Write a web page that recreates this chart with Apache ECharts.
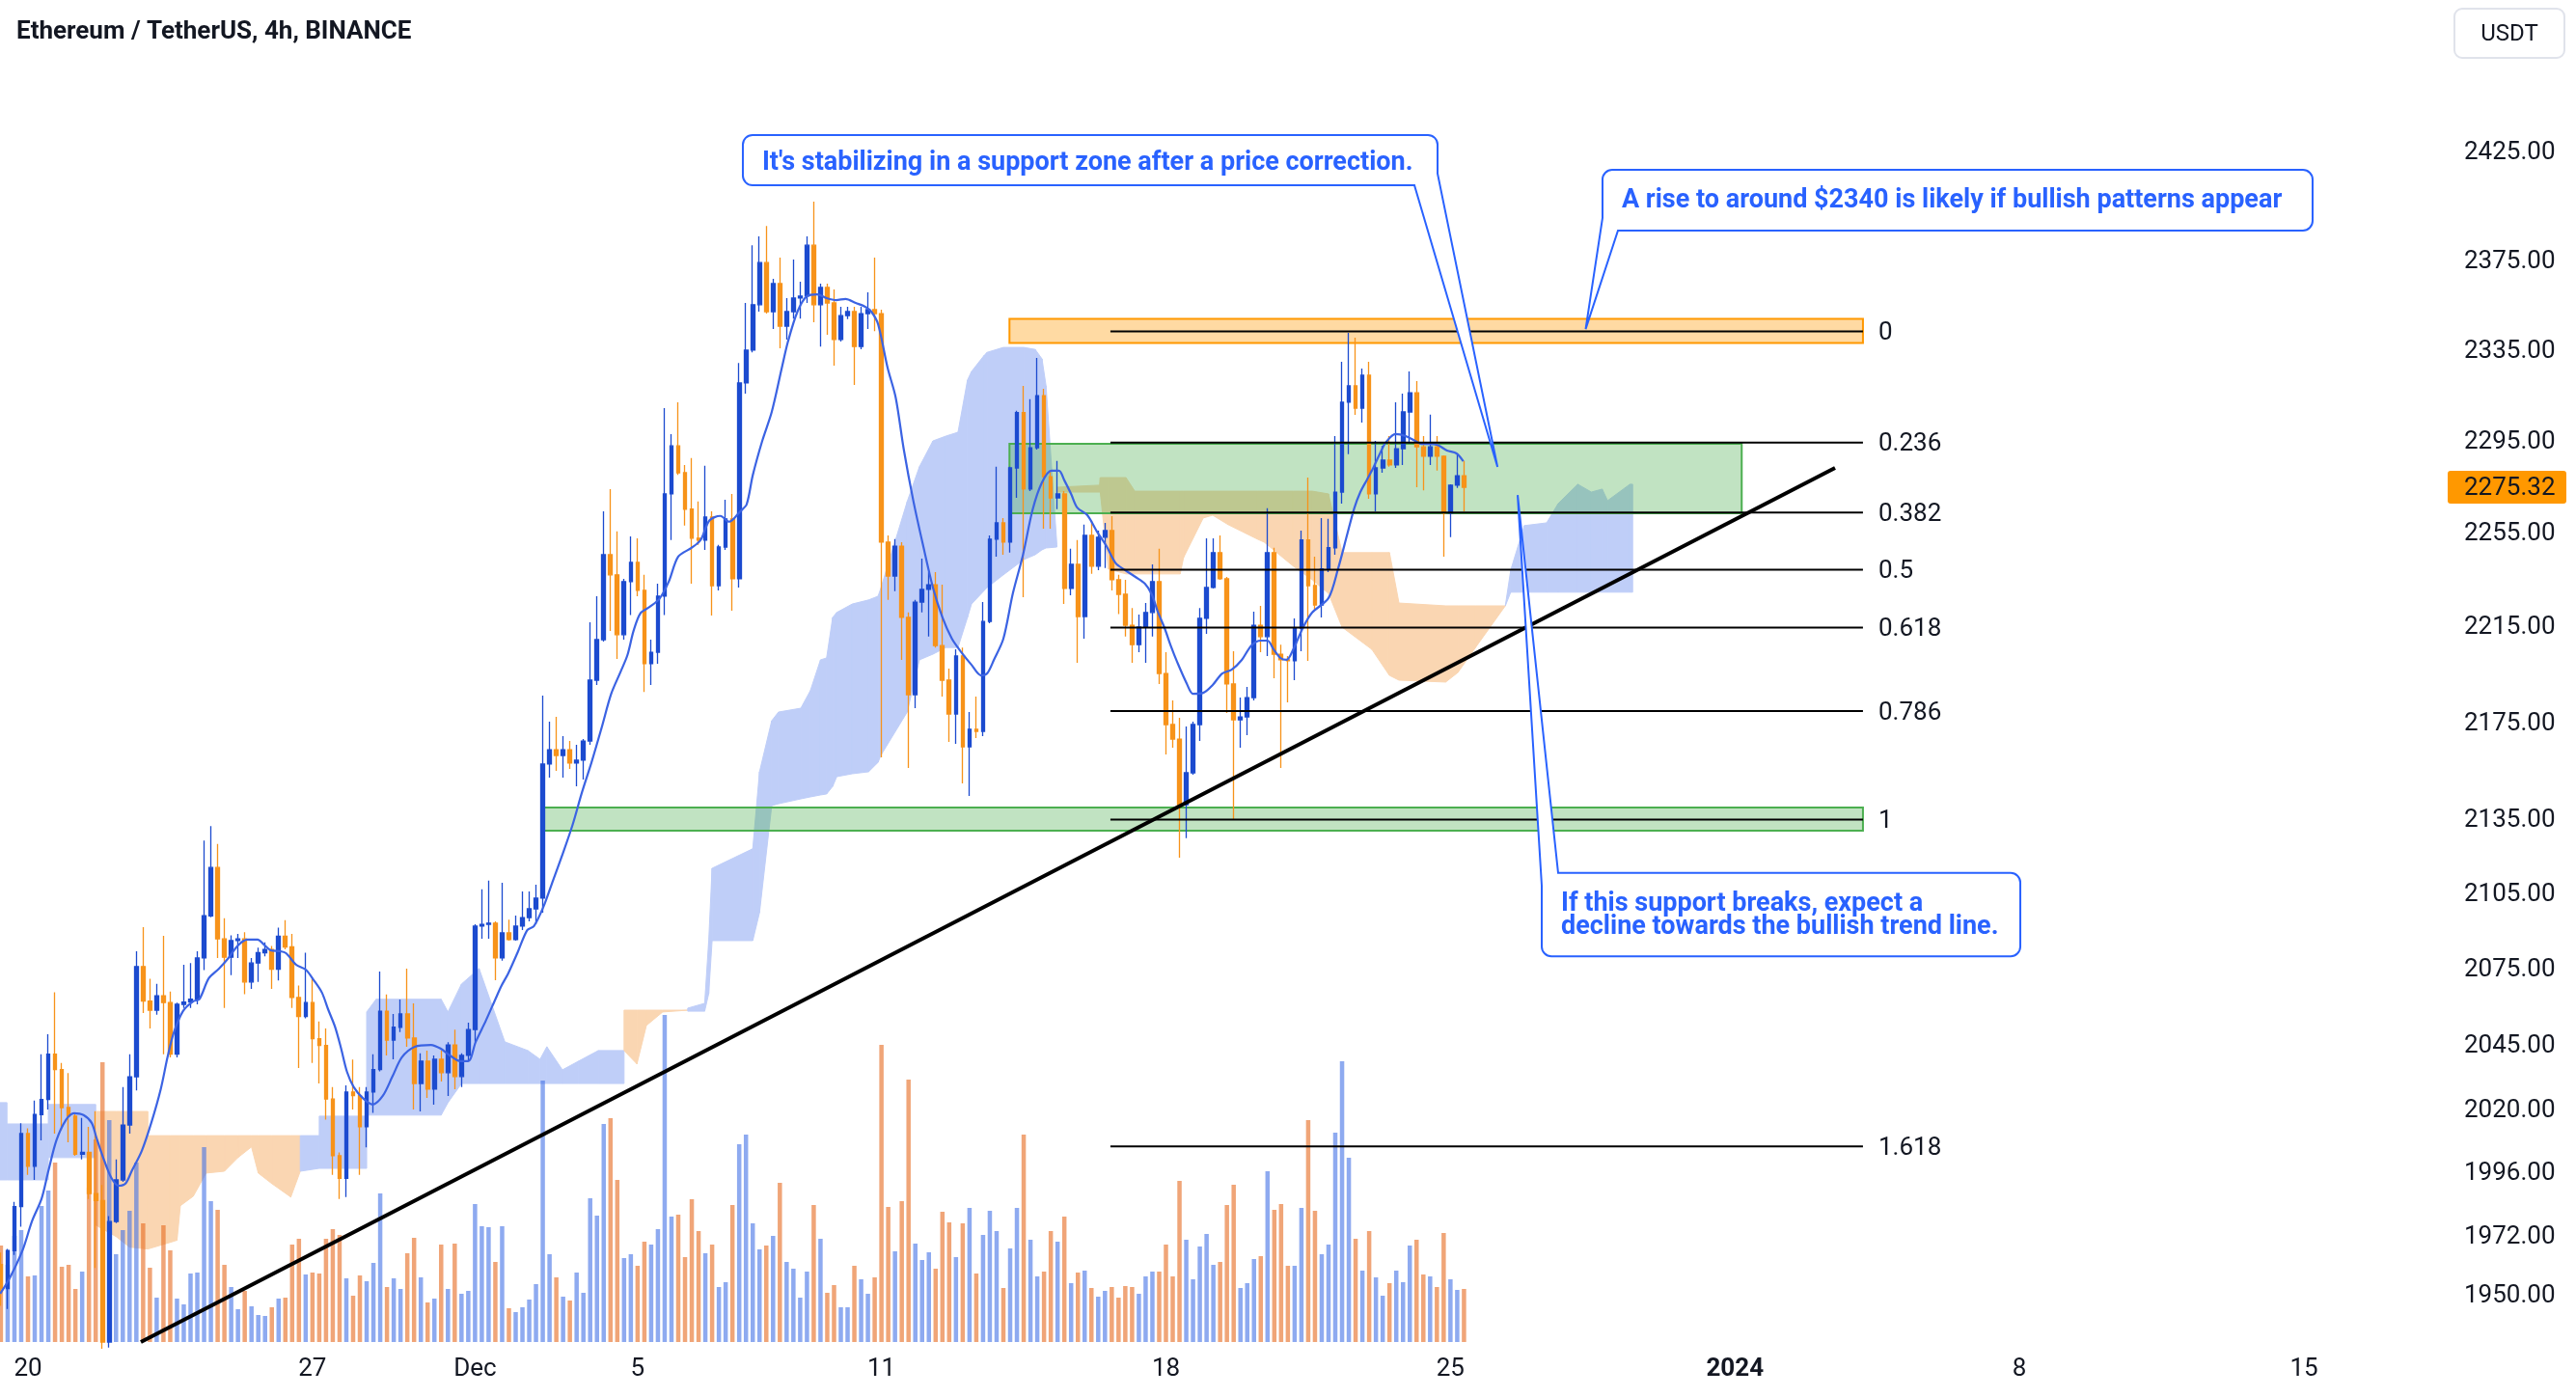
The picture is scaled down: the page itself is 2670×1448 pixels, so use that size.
<!DOCTYPE html>
<html>
<head>
<meta charset="utf-8">
<title>Ethereum / TetherUS, 4h, BINANCE</title>
<script src="https://cdn.jsdelivr.net/npm/echarts@6/dist/echarts.min.js"></script>
<style>
html,body{margin:0;padding:0;background:#ffffff;}
#chart{width:2670px;height:1448px;}
</style>
</head>
<body>
<div id="chart"></div>
<script>
// ---------------- data ----------------
// bar index: 0 = 20 Nov 2023 00:00, one bar = 4 hours
const FIRST_INDEX = -4;
// [open, high, low, close]
const ohlc = [
[1961.8,1966.3,1946.4,1952.8],[1952.8,1967.6,1945.2,1967.0],[1967.0,1985.4,1965.4,1983.6],[1983.6,2015.4,1976.0,2011.4],
[2011.4,2013.4,1995.6,1998.9],[1998.9,2024.1,1993.7,2018.7],[2018.7,2042.1,2008.8,2024.5],[2024.5,2049.9,2020.7,2042.1],
[2042.1,2066.3,2011.4,2036.1],[2036.1,2038.7,2012.7,2021.4],[2021.4,2034.7,2008.1,2018.1],[2018.1,2019.4,2002.9,2003.5],
[2003.5,2017.4,2001.5,2004.2],[2004.2,2014.0,1986.5,1988.5],[1988.5,2020.0,1960.5,1985.9],[1985.9,1991.8,1930.5,1933.0],
[1933.0,1980.0,1931.0,1977.9],[1977.9,2001.5,1977.3,1993.7],[1993.7,2029.3,1993.0,2014.7],[2014.7,2042.1,2011.4,2033.3],
[2033.3,2082.6,2028.0,2076.5],[2076.5,2092.2,2058.2,2062.9],[2062.9,2071.7,2052.1,2059.3],[2059.3,2069.7,2057.5,2065.0],
[2065.0,2088.7,2042.1,2062.3],[2062.3,2066.6,2040.8,2042.1],[2042.1,2062.3,2040.8,2061.6],[2061.6,2077.2,2060.2,2062.5],
[2062.5,2077.9,2060.2,2063.6],[2063.6,2082.6,2061.6,2079.9],[2079.9,2127.0,2075.1,2096.7],[2096.7,2132.9,2096.1,2116.1],
[2116.1,2125.6,2079.9,2087.5],[2087.5,2095.7,2060.2,2080.2],[2080.2,2088.9,2073.1,2086.8],[2086.8,2089.5,2079.9,2087.5],
[2087.5,2090.2,2065.6,2070.4],[2070.4,2079.9,2067.7,2077.9],[2077.9,2084.0,2070.4,2082.0],[2082.0,2086.1,2080.6,2083.3],
[2083.3,2084.7,2067.7,2075.5],[2075.5,2092.0,2071.0,2088.6],[2088.6,2095.0,2083.3,2084.3],[2084.3,2089.5,2060.2,2064.3],
[2064.3,2069.0,2036.7,2056.8],[2056.8,2082.0,2056.1,2062.3],[2062.3,2071.7,2038.7,2048.1],[2048.1,2054.9,2030.7,2045.5],
[2045.5,2052.1,2016.8,2024.7],[2024.7,2029.3,1995.6,2002.9],[2002.9,2004.2,1986.5,1994.3],[1994.3,2030.0,1987.2,2027.4],
[2027.4,2040.0,2020.7,2026.0],[2026.0,2029.3,1995.6,2014.0],[2014.0,2029.3,2006.1,2027.4],[2027.4,2042.1,2019.4,2036.1],
[2036.1,2074.5,2035.4,2058.9],[2058.9,2065.5,2041.6,2047.6],[2047.6,2057.8,2040.1,2052.6],[2052.6,2063.5,2050.7,2057.8],
[2057.8,2075.7,2045.0,2048.4],[2048.4,2062.0,2020.7,2030.7],[2030.7,2042.4,2019.9,2039.4],[2039.4,2043.5,2025.1,2028.5],
[2028.5,2041.6,2022.5,2040.1],[2040.1,2043.5,2031.5,2034.9],[2034.9,2046.8,2025.9,2045.7],[2045.7,2051.7,2028.5,2033.4],
[2033.4,2042.4,2029.3,2041.6],[2041.6,2054.4,2039.4,2051.7],[2051.7,2093.3,2046.9,2092.6],[2092.6,2107.3,2087.6,2093.3],
[2093.3,2110.8,2087.6,2093.8],[2093.8,2094.5,2071.1,2079.9],[2079.9,2110.0,2078.8,2089.9],[2089.9,2095.2,2086.8,2087.2],
[2087.2,2096.8,2086.8,2092.6],[2092.6,2106.5,2091.0,2096.0],[2096.0,2106.5,2094.5,2099.5],[2099.5,2109.2,2093.3,2103.8],
[2103.8,2186.6,2098.0,2158.3],[2158.3,2175.8,2152.7,2164.2],[2164.2,2177.8,2155.5,2161.8],[2161.8,2169.8,2152.7,2164.2],
[2164.2,2167.8,2156.3,2158.7],[2158.7,2166.2,2149.1,2159.9],[2159.9,2168.6,2151.9,2167.8],[2167.8,2217.4,2166.2,2193.1],
[2193.1,2228.5,2191.1,2210.1],[2210.1,2264.9,2209.3,2246.2],[2246.2,2274.5,2213.8,2237.6],[2237.6,2256.2,2202.0,2212.2],
[2212.2,2235.9,2210.1,2234.7],[2234.7,2254.1,2220.5,2242.9],[2242.9,2253.2,2228.5,2231.0],[2231.0,2237.6,2188.2,2200.0],
[2200.0,2210.1,2191.1,2204.8],[2204.8,2233.8,2200.0,2228.5],[2228.5,2309.9,2220.5,2272.4],[2272.4,2298.5,2252.5,2293.3],
[2293.3,2312.5,2280.7,2281.6],[2281.6,2285.0,2258.7,2265.8],[2265.8,2288.0,2233.8,2253.3],[2253.3,2269.1,2250.4,2252.5],
[2252.5,2284.6,2248.3,2262.4],[2262.4,2264.9,2220.3,2233.0],[2233.0,2250.4,2231.0,2249.5],[2249.5,2269.9,2248.3,2261.6],
[2261.6,2272.4,2222.3,2235.9],[2235.9,2329.9,2232.2,2321.0],[2321.0,2356.7,2316.3,2335.6],[2335.6,2382.8,2334.6,2355.9],
[2355.9,2386.8,2352.8,2374.9],[2374.9,2391.6,2351.9,2352.8],[2352.8,2367.6,2345.0,2365.4],[2365.4,2377.2,2336.4,2346.3],
[2346.3,2358.9,2340.3,2352.8],[2352.8,2376.3,2349.7,2358.9],[2358.9,2366.3,2349.7,2359.8],[2359.8,2386.8,2356.7,2382.8],
[2382.8,2402.7,2348.0,2355.9],[2355.9,2365.4,2337.2,2363.7],[2363.7,2365.4,2342.4,2356.7],[2356.7,2362.8,2328.7,2340.3],
[2340.3,2355.0,2339.4,2351.0],[2351.0,2355.0,2349.5,2352.8],[2352.8,2355.0,2320.1,2337.2],[2337.2,2355.0,2336.0,2351.9],
[2351.9,2361.5,2345.0,2353.7],[2353.7,2377.2,2344.1,2351.9],[2351.9,2353.7,2161.0,2251.6],[2251.6,2254.5,2226.9,2237.1],
[2237.1,2252.9,2230.6,2249.9],[2249.9,2251.6,2201.6,2219.5],[2219.5,2221.6,2156.7,2187.0],[2187.0,2226.9,2181.4,2226.0],
[2226.0,2244.5,2221.6,2231.4],[2231.4,2238.8,2211.4,2233.4],[2233.4,2238.8,2206.8,2207.6],[2207.6,2233.4,2186.2,2193.1],
[2193.1,2197.9,2167.4,2179.0],[2179.0,2206.0,2166.6,2203.2],[2203.2,2206.8,2150.3,2165.4],[2165.4,2179.8,2145.2,2172.6],
[2172.6,2186.2,2169.0,2171.8],[2171.8,2226.0,2169.8,2217.8],[2217.8,2254.5,2217.0,2252.9],[2252.9,2284.2,2245.4,2259.9],
[2259.9,2262.0,2246.2,2251.6],[2251.6,2284.2,2247.1,2283.7],[2283.7,2308.7,2270.7,2307.9],[2307.9,2319.7,2228.1,2274.5],
[2274.5,2313.8,2273.6,2292.5],[2292.5,2332.1,2291.7,2315.4],[2315.4,2318.4,2257.4,2279.9],[2279.9,2282.9,2257.4,2270.7],
[2270.7,2286.7,2265.8,2272.4],[2272.4,2273.6,2225.2,2231.8],[2231.8,2248.8,2228.9,2242.1],[2242.1,2252.5,2200.4,2219.9],
[2219.9,2259.1,2210.5,2254.5],[2254.5,2260.8,2238.0,2241.3],[2241.3,2256.6,2239.6,2253.7],[2253.7,2259.9,2240.5,2256.6],
[2256.6,2262.8,2231.0,2235.5],[2235.5,2237.6,2220.9,2229.3],[2229.3,2235.5,2211.4,2216.2],[2216.2,2223.5,2200.4,2208.0],
[2208.0,2220.7,2204.8,2215.4],[2215.4,2225.6,2200.4,2221.6],[2221.6,2242.1,2211.4,2234.7],[2234.7,2248.8,2191.5,2195.9],
[2195.9,2204.8,2162.2,2174.6],[2174.6,2184.6,2165.0,2168.6],[2168.6,2177.4,2120.1,2141.6],[2141.6,2173.8,2128.0,2154.7],
[2154.7,2175.8,2153.9,2174.6],[2174.6,2223.5,2167.8,2219.1],[2219.1,2253.2,2212.6,2232.2],[2232.2,2253.2,2231.8,2247.1],
[2247.1,2254.5,2235.5,2235.9],[2235.9,2236.7,2179.4,2191.5],[2191.5,2205.2,2135.4,2176.6],[2176.6,2185.8,2165.0,2177.8],
[2177.8,2190.3,2170.2,2185.8],[2185.8,2221.9,2184.6,2216.2],[2216.2,2224.4,2204.8,2211.4],[2211.4,2266.2,2203.2,2247.1],
[2247.1,2249.2,2193.9,2204.0],[2204.0,2208.0,2156.7,2201.6],[2201.6,2203.2,2183.8,2201.2],[2201.2,2219.1,2193.1,2215.0],
[2215.0,2256.6,2205.2,2252.5],[2252.5,2279.5,2201.2,2233.0],[2233.0,2245.4,2222.3,2224.8],[2224.8,2262.0,2219.5,2240.1],
[2240.1,2261.6,2238.8,2249.2],[2249.2,2297.6,2246.2,2273.2],[2273.2,2330.4,2268.2,2312.5],[2312.5,2343.3,2289.7,2319.7],
[2319.7,2341.1,2306.9,2309.9],[2309.9,2327.4,2303.5,2324.4],[2324.4,2330.4,2270.3,2272.4],[2272.4,2295.5,2264.9,2283.7],
[2283.7,2293.3,2281.6,2287.1],[2287.1,2297.6,2284.2,2285.0],[2285.0,2312.5,2283.7,2292.1],[2292.1,2316.3,2285.0,2308.2],
[2308.2,2326.1,2294.2,2316.7],[2316.7,2321.8,2275.3,2292.9],[2292.9,2297.6,2274.0,2288.8],[2288.8,2307.0,2285.0,2292.9],
[2292.9,2297.6,2282.5,2288.8],[2288.8,2289.2,2245.4,2264.1],[2264.1,2276.6,2253.7,2276.2],[2276.2,2290.0,2275.0,2280.3],
[2280.3,2286.7,2264.9,2275.32]
];
// volume, thousand ETH, one per candle
const volumeK = [
50,40,55,58,34,34.5,70.5,78.5,93,39,40,27.5,36.5,80,105,145,115,45.5,58,68,93,61.5,38.5,23,60.5,47.5,22.5,19.5,35.5,36,
101,73,68.5,40,28.5,17,26.5,18.5,14,13.5,18,22.5,23,50.5,53.5,35,36,35.5,53.5,58.5,55.5,33,24,34.5,31.5,41,77,28.5,33,27.5,
46,54,33.5,20.5,22.5,50.5,27.5,51,25,26.5,71.5,60,59.5,41.5,60,17.5,15.5,18,22,30,135.5,45.5,33.5,23.5,21.5,36,25.5,74.5,65.5,113,
116,84,43.5,45.5,39.5,52,50.5,58.5,169.5,65,66,44,74,57.5,46,50.5,28.5,31,71,102.5,107.5,61.5,48,50,55,82.5,41.5,38,23,36.5,
71,53.5,25.5,29.5,18,18,39.5,32.5,25,33.5,154,70,47,73,136,51,42.5,46.5,38,67.5,62,44,61.5,69.5,35.5,55.5,68,57.5,28,48.5,
69.5,107.5,53,34,36.5,57.5,52,65,30.5,36,37,28,23.5,26.5,28.5,23,29,28.5,25,34,36.5,36.5,50.5,34,83.5,53,32.5,49.5,56,40,
41.5,71,81.5,28,30.5,43,44.5,88.5,68.5,71.5,39.5,39.5,69.5,115,68,45.5,50.5,108.5,145.5,95.5,53.5,37,57.5,33.5,24,30.5,37,31,
50,53,35,34,28.5,56.5,32.5,27,27.5
];
// blue moving-average line: [bar index, price]
const maLine = [
[-4.1,1950.9],[-2.7,1956.7],[-0.8,1967.1],[0.6,1978.1],[2.0,1986.5],[3.0,1997.0],[4.2,2008.8],[5.6,2016.6],[6.8,2019.2],[8.2,2018.5],
[9.4,2015.5],[10.1,2009.9],[11.1,2002.2],[12.3,1994.5],[13.4,1991.5],[14.4,1992.3],[15.3,1997.0],[16.8,2004.8],[18.2,2015.5],[19.6,2028.5],
[20.6,2040.9],[21.5,2050.3],[22.9,2059.0],[24.4,2062.8],[25.3,2063.6],[26.7,2071.9],[28.2,2075.7],[29.6,2079.9],[31.0,2084.9],[32.4,2087.2],
[33.9,2087.2],[34.8,2085.3],[35.8,2083.0],[37.2,2082.6],[38.1,2081.8],[39.6,2077.2],[41.0,2075.3],[42.2,2071.1],[43.4,2066.2],[44.3,2059.7],
[45.3,2053.0],[46.2,2044.6],[47.1,2035.2],[48.1,2029.3],[49.5,2024.9],[50.9,2022.6],[52.4,2026.0],[53.8,2033.4],[55.2,2040.9],[57.1,2045.0],
[59.5,2045.7],[60.9,2044.3],[62.3,2041.6],[63.8,2039.4],[65.0,2039.4],[66.1,2046.9],[67.6,2055.2],[69.0,2063.6],[69.9,2068.9],[70.9,2073.8],
[72.3,2082.2],[73.7,2091.0],[74.7,2092.6],[76.1,2100.3],[77.5,2110.8],[79.0,2122.1],[80.4,2133.4],[81.8,2146.8],[83.2,2159.0],[84.7,2173.4],
[86.1,2187.4],[87.5,2196.7],[88.5,2203.6],[89.4,2213.8],[90.4,2221.2],[91.8,2224.0],[93.2,2227.3],[94.6,2234.7],[96.0,2245.4],[98.0,2249.2],
[99.3,2252.5],[100.6,2260.9],[102.2,2262.9],[103.5,2260.4],[105.2,2265.0],[106.1,2267.9],[107.0,2280.5],[108.4,2295.5],[109.8,2308.2],[111.3,2327.8],
[112.2,2339.4],[113.6,2352.8],[115.0,2359.8],[116.5,2360.6],[117.9,2358.9],[119.3,2358.0],[120.7,2358.5],[122.2,2356.7],[123.6,2355.0],[124.5,2352.8],
[125.5,2347.2],[126.9,2327.8],[128.1,2314.6],[129.3,2291.7],[130.7,2269.5],[132.1,2250.8],[133.6,2232.2],[135.0,2219.5],[136.4,2210.5],[137.8,2204.8],
[139.3,2199.5],[140.7,2195.1],[141.6,2195.9],[142.6,2201.6],[144.0,2210.5],[145.4,2229.7],[146.9,2246.2],[148.3,2265.4],[149.7,2277.4],[151.1,2282.5],
[152.2,2282.5],[153.0,2278.3],[154.0,2272.4],[154.9,2266.5],[156.4,2263.2],[157.8,2256.2],[159.2,2250.0],[160.6,2242.5],[162.0,2239.6],[163.5,2236.7],
[164.9,2233.8],[165.9,2229.3],[166.8,2221.9],[167.8,2215.0],[168.7,2207.6],[169.7,2200.4],[171.1,2191.5],[172.0,2187.4],[173.5,2187.8],[174.9,2191.1],
[176.3,2195.9],[177.7,2197.5],[179.2,2201.6],[180.6,2207.6],[182.0,2209.7],[183.0,2209.7],[183.9,2206.0],[184.9,2202.4],[185.8,2201.6],[186.8,2206.0],
[188.2,2215.0],[189.6,2221.6],[192.0,2227.7],[193.4,2240.1],[194.8,2255.4],[195.8,2266.2],[196.7,2273.2],[197.7,2278.7],[198.6,2283.7],[199.6,2290.0],
[200.5,2295.0],[201.9,2298.5],[203.4,2297.6],[204.8,2295.5],[205.7,2294.2],[206.9,2294.2],[208.1,2293.7],[209.5,2291.3],[210.9,2290.0],[211.9,2286.6]
];
// Ichimoku cloud outline samples: bar index, leading span A, leading span B
const cloudIdx = [-4.2,-3.1,-3.1,3,3,10, 10,13,15,17.7,17.7,21,22,22.5,24.4,26.3,29,31,33,34,36,38.8,40.2,
40.2,43,43,50,50,51.4,61,62,64,66.6,70.4,73.8,75.6,76.6,78.9,81.3,84.2,88, 88,89.9,91.3,93.7,97.4,
97.4,99.9,100.5,101,107,108,109.8,110.8,114.1,115.5,117,117.9,118.8,119.4,121.7,124.1,125.5,125.9,129.8,131.6,133.6,135.5,137.3,138.7,139.3,141.2,141.6,144,147,148.7,149.7,150.3,151.9,
151.9,158.2,158.3,159.5,162.1,163.4,170.1,170.6,173.5,174.9,177.2,181.5,182.5,186.8,189.6,192,194,198.4,200.8,201,202.4,209.3,211.1,213.7,218.1,
218.1,218.9,220.9,224.2,225.9,228.8,230.8,232.4,233.2,236.5,236.9];
const spanA = [2023.3,2023.3,2015.1,2015.1,2022.6,2022.6, 1976.6,1972.3,1968.3,1967.6,1967.6,1970.1,1970.9,1983.9,1987.5,1996.3,1997.0,2002.2,2006.3,1996.3,1992.3,1987.2,1997.0,
2010.6,2010.6,2018.1,2018.1,2058.6,2063.6,2063.6,2058.6,2069.6,2075.7,2046.9,2043.5,2040.1,2045.0,2036.0,2039.4,2043.5,2043.5, 2043.5,2038.3,2053.3,2058.6,2059.3,
2060.1,2062.0,2086.8,2115.8,2123.7,2155.1,2176.2,2179.8,2181.4,2188.7,2201.6,2202.4,2219.5,2221.6,2225.2,2226.9,2228.5,2231.8,2269.1,2284.2,2295.5,2297.6,2299.3,2322.3,2326.1,2333.4,2334.6,2336.8,2336.8,2335.9,2331.7,2319.7,2250.4,
2273.2,2273.2,2273.2,2240.1,2238.0,2238.0,2238.0,2245.0,2262.0,2263.2,2259.1,2252.9,2251.6,2241.3,2235.5,2229.7,2215.4,2206.0,2195.9,2195.1,2193.1,2192.3,2196.3,2206.8,2224.4,
2224.4,2239.6,2258.7,2259.9,2268.2,2276.6,2273.2,2274.5,2269.5,2276.6,2276.6];
const spanB = [1993.7,1993.7,1993.7,1993.7,2002.2,2002.2, 2019.9,2019.9,2019.9,2019.9,2010.6,2010.6,2010.6,2010.6,2010.6,2010.6,2010.6,2010.6,2010.6,2010.6,2010.6,2010.6,2010.6,
1997.0,1998.1,1998.1,1998.1,2018.5,2018.5,2018.5,2023.3,2030.7,2030.7,2030.7,2030.7,2030.7,2030.7,2030.7,2030.7,2030.7,2030.7, 2059.3,2059.3,2059.3,2059.3,2059.3,
2058.9,2058.9,2065.8,2086.8,2086.8,2098.0,2141.2,2142.0,2144.0,2144.8,2145.6,2146.0,2149.1,2153.1,2154.3,2155.1,2159.0,2161.8,2179.8,2201.6,2204.0,2206.8,2206.8,2219.5,2225.2,2231.0,2232.2,2237.6,2244.1,2246.2,2248.3,2249.1,2249.5,
2275.3,2276.2,2279.5,2279.5,2279.5,2273.6,2273.6,2273.6,2273.6,2273.6,2273.6,2273.6,2273.6,2273.6,2273.6,2272.4,2247.1,2247.1,2247.1,2247.1,2225.6,2224.4,2224.4,2224.4,2224.4,
2224.4,2230.2,2230.2,2230.2,2230.2,2230.2,2230.2,2230.2,2230.2,2230.2,2230.2];
// axes
const priceTicks = [2425,2375,2335,2295,2255,2215,2175,2135,2105,2075,2045,2020,1996,1972,1950];
const dateTickIdx = [0,42,66,90,126,168,210,252,294,336];
const dateTickText = ['20','27','Dec','5','11','18','25','2024','8','15'];
const axisRangeIdx = [-4.1306, 357.224];
const axisRangePrice = [1933.0, 2496.9];
// Fibonacci retracement
const fibLabels = ['0','0.236','0.382','0.5','0.618','0.786','1','1.618'];
const fibPrices = [2344.0,2294.8,2264.4,2239.8,2215.2,2180.2,2135.5,2006.5];
const fibRange = [159.8, 270.9];
// zones: [from bar, to bar, low price, high price, kind]
const zoneBoxes = [[144.9,270.9,2338.8,2349.6,'resistance'],[144.9,253.0,2264.0,2294.2,'support'],[76.2,270.9,2131.0,2140.5,'support']];
// rising trend line: [bar, price]
const trendLine = [[16.66,1933.0],[266.78,2283.7]];
// callouts
const calloutText = [
  "It's stabilizing in a support zone after a price correction.",
  "A rise to around $2340 is likely if bullish patterns appear",
  "If this support breaks, expect a\ndecline towards the bullish trend line."
];
const calloutBox = [[105.54,208.10,2410.2,2433.4],[232.45,337.28,2389.5,2417.3],[223.48,294.13,2080.6,2113.9]]; // [left bar, right bar, bottom price, top price]
const calloutTip = [[216.95,2284.1],[229.96,2345.0],[219.92,2271.9]];
const calloutTailEdge = [[204.68,2415.6],[234.73,2395.2],[225.90,2108.8]]; // [bar on horizontal edge, price on vertical edge]
const calloutCorner = ['br','bl','tl'];
const lastPrice = 2275.32;

// ---------------- styling ----------------
const FONT = 'Roboto, "Noto Sans", "DejaVu Sans", sans-serif';
const TXT = '#131722';
const C_UP = '#1c4bcf', C_DN = '#f7931a';
const V_UP = 'rgba(67,113,230,0.6)', V_DN = 'rgba(230,105,30,0.6)';
const CL_UP = '#bfcef8', CL_DN = '#fad6b2';
const MA_C = '#3b63e3';
const CALL_C = '#2962ff';
const L = Math.log;
const VOL_MAX = 695.5;

const chart = echarts.init(document.getElementById('chart'), null, {renderer: 'canvas', width: 2670, height: 1448});

const candleData = ohlc.map((d, k) => [FIRST_INDEX + k, L(d[0]), L(d[3]), L(d[2]), L(d[1])]);
const volData = volumeK.map((v, k) => ({
  value: [FIRST_INDEX + k, v],
  itemStyle: {color: ohlc[k][3] >= ohlc[k][0] ? V_UP : V_DN}
}));

const empty = () => ({type: 'group', children: []});

function renderCloud(params, api) {
  const k = params.dataIndex;
  const x1 = cloudIdx[k], x2 = cloudIdx[k + 1];
  if (!(x2 > x1)) return empty();
  const a1 = api.coord([x1, L(spanA[k])]), b1 = api.coord([x1, L(spanB[k])]);
  const a2 = api.coord([x2, L(spanA[k + 1])]), b2 = api.coord([x2, L(spanB[k + 1])]);
  const up = spanA[k] + spanA[k + 1] >= spanB[k] + spanB[k + 1];
  const col = up ? CL_UP : CL_DN;
  return {type: 'polygon', shape: {points: [a1, a2, b2, b1]}, style: {fill: col, stroke: col, lineWidth: 1}};
}

function renderZone(params, api) {
  const b = zoneBoxes[params.dataIndex];
  const p1 = api.coord([b[0], L(b[3])]), p2 = api.coord([b[1], L(b[2])]);
  const res = b[4] === 'resistance';
  return {type: 'rect', shape: {x: p1[0], y: p1[1], width: p2[0] - p1[0], height: p2[1] - p1[1]},
    style: {fill: res ? 'rgba(255,152,0,0.36)' : 'rgba(76,175,80,0.35)', stroke: res ? '#ff9800' : '#4caf50', lineWidth: 2}};
}

function renderFib(params, api) {
  const k = params.dataIndex;
  const a = api.coord([fibRange[0], L(fibPrices[k])]), b = api.coord([fibRange[1], L(fibPrices[k])]);
  return {type: 'group', children: [
    {type: 'line', shape: {x1: a[0], y1: a[1], x2: b[0], y2: b[1]}, style: {stroke: '#000000', lineWidth: 2}},
    {type: 'text', style: {text: fibLabels[k], x: b[0] + 16, y: a[1] + 2, fill: TXT, font: '26px ' + FONT,
      textAlign: 'left', align: 'left', textVerticalAlign: 'middle', verticalAlign: 'middle'}}
  ]};
}

function renderCallout(params, api) {
  const k = params.dataIndex;
  const bx = calloutBox[k];
  const tl = api.coord([bx[0], L(bx[3])]), br = api.coord([bx[1], L(bx[2])]);
  const X0 = tl[0], T = tl[1], X1 = br[0], B = br[1], r = 10;
  const tip = api.coord([calloutTip[k][0], L(calloutTip[k][1])]);
  const ex = api.coord([calloutTailEdge[k][0], L(bx[2])])[0];
  const ey = api.coord([bx[0], L(calloutTailEdge[k][1])])[1];
  const arc = (x, y) => 'A ' + r + ' ' + r + ' 0 0 1 ' + x + ' ' + y;
  let d;
  const corner = calloutCorner[k];
  if (corner === 'br') {
    d = 'M ' + (X0 + r) + ' ' + T + ' H ' + (X1 - r) + ' ' + arc(X1, T + r) + ' V ' + ey + ' L ' + tip[0] + ' ' + tip[1] +
        ' L ' + ex + ' ' + B + ' H ' + (X0 + r) + ' ' + arc(X0, B - r) + ' V ' + (T + r) + ' ' + arc(X0 + r, T) + ' Z';
  } else if (corner === 'bl') {
    d = 'M ' + (X0 + r) + ' ' + T + ' H ' + (X1 - r) + ' ' + arc(X1, T + r) + ' V ' + (B - r) + ' ' + arc(X1 - r, B) +
        ' H ' + ex + ' L ' + tip[0] + ' ' + tip[1] + ' L ' + X0 + ' ' + ey + ' V ' + (T + r) + ' ' + arc(X0 + r, T) + ' Z';
  } else {
    const exT = api.coord([calloutTailEdge[k][0], L(bx[3])])[0];
    d = 'M ' + exT + ' ' + T + ' H ' + (X1 - r) + ' ' + arc(X1, T + r) + ' V ' + (B - r) + ' ' + arc(X1 - r, B) +
        ' H ' + (X0 + r) + ' ' + arc(X0, B - r) + ' V ' + ey + ' L ' + tip[0] + ' ' + tip[1] + ' Z';
  }
  return {type: 'group', children: [
    {type: 'path', shape: {pathData: d}, style: {fill: '#ffffff', stroke: CALL_C, lineWidth: 2}},
    {type: 'text', style: {text: calloutText[k], x: X0 + 20, y: (T + B) / 2 + (k === 0 ? 3 : 1), fill: CALL_C, font: 'bold 27px ' + FONT,
      lineHeight: 24, textAlign: 'left', align: 'left', textVerticalAlign: 'middle', verticalAlign: 'middle'}}
  ]};
}

function renderLastPrice(params, api) {
  const pt = api.coord([api.value(0), api.value(1)]);
  const gx = params.coordSys.x + params.coordSys.width;
  return {type: 'group', children: [
    {type: 'rect', shape: {x: gx, y: pt[1] - 17, width: 123, height: 34, r: 3}, style: {fill: '#ff9800'}},
    {type: 'text', style: {text: lastPrice.toFixed(2), x: gx + 17, y: pt[1] + 2, fill: TXT, font: '26px ' + FONT,
      textAlign: 'left', align: 'left', textVerticalAlign: 'middle', verticalAlign: 'middle'}}
  ]};
}

const option = {
  animation: false,
  backgroundColor: '#ffffff',
  textStyle: {fontFamily: FONT},
  title: {text: 'Ethereum / TetherUS, 4h, BINANCE', left: 17, top: 20, padding: 0,
    textStyle: {fontSize: 26, fontWeight: 'bold', color: TXT, fontFamily: FONT}},
  graphic: [
    {type: 'rect', x: 2544, y: 9, shape: {width: 114, height: 51, r: 8}, style: {fill: '#ffffff', stroke: '#e0e3eb', lineWidth: 2}, z: 100},
    {type: 'text', x: 2601, y: 36, style: {text: 'USDT', font: '24px ' + FONT, fill: TXT, textAlign: 'center', align: 'center', textVerticalAlign: 'middle', verticalAlign: 'middle'}, z: 101}
  ],
  grid: {left: 0, right: 133, top: 0, bottom: 57, containLabel: false, outerBoundsMode: 'none'},
  xAxis: [{
    type: 'value', min: axisRangeIdx[0], max: axisRangeIdx[1],
    axisLine: {show: false}, axisTick: {show: false}, splitLine: {show: false},
    axisLabel: {
      customValues: dateTickIdx, margin: 15, fontSize: 26, color: TXT, fontFamily: FONT,
      formatter: v => {
        const t = dateTickText[dateTickIdx.indexOf(Math.round(v))];
        return t === '2024' ? '{b|2024}' : t;
      },
      rich: {b: {fontWeight: 'bold', fontSize: 26, color: TXT, fontFamily: FONT}}
    }
  }],
  yAxis: [{
    type: 'value', position: 'right', min: L(axisRangePrice[0]), max: L(axisRangePrice[1]),
    axisLine: {show: false}, axisTick: {show: false}, splitLine: {show: false},
    axisLabel: {customValues: priceTicks.map(L), margin: 17, fontSize: 26, color: TXT, fontFamily: FONT,
      padding: [5, 0, 0, 0], formatter: v => Math.exp(v).toFixed(2)}
  }, {
    type: 'value', min: 0, max: VOL_MAX, show: false
  }],
  series: [
    {type: 'custom', name: 'Cloud', z: 1, silent: true, clip: true, renderItem: renderCloud,
      data: cloudIdx.slice(0, -1).map((x, k) => [x, L(spanA[k])])},
    {type: 'bar', name: 'Volume', z: 2, xAxisIndex: 0, yAxisIndex: 1, barWidth: 4.5, silent: true, data: volData},
    {type: 'custom', name: 'Zones', z: 3, silent: true, clip: true, renderItem: renderZone,
      data: zoneBoxes.map(b => [b[0], L(b[2])])},
    {type: 'candlestick', name: 'ETHUSDT', z: 4, barWidth: 4.2, clip: true, silent: true,
      itemStyle: {color: C_UP, color0: C_DN, borderColor: C_UP, borderColor0: C_DN, borderWidth: 1.3},
      data: candleData},
    {type: 'line', name: 'MA', z: 5, silent: true, showSymbol: false, symbol: 'none', smooth: 0.3,
      lineStyle: {color: MA_C, width: 2.2}, data: maLine.map(p => [p[0], L(p[1])])},
    {type: 'custom', name: 'Fib', z: 6, silent: true, clip: false, renderItem: renderFib,
      data: fibPrices.map(p => [fibRange[0], L(p)])},
    {type: 'line', name: 'Trend', z: 7, silent: true, symbol: 'none', clip: true,
      lineStyle: {color: '#000000', width: 4}, data: trendLine.map(p => [p[0], L(p[1])])},
    {type: 'custom', name: 'Callouts', z: 8, silent: true, clip: false, renderItem: renderCallout,
      data: calloutBox.map(b => [b[0], L(b[3])])},
    {type: 'custom', name: 'Last', z: 9, silent: true, clip: false, renderItem: renderLastPrice,
      data: [[FIRST_INDEX + ohlc.length - 1, L(lastPrice)]]}
  ]
};
chart.setOption(option);
</script>
</body>
</html>
